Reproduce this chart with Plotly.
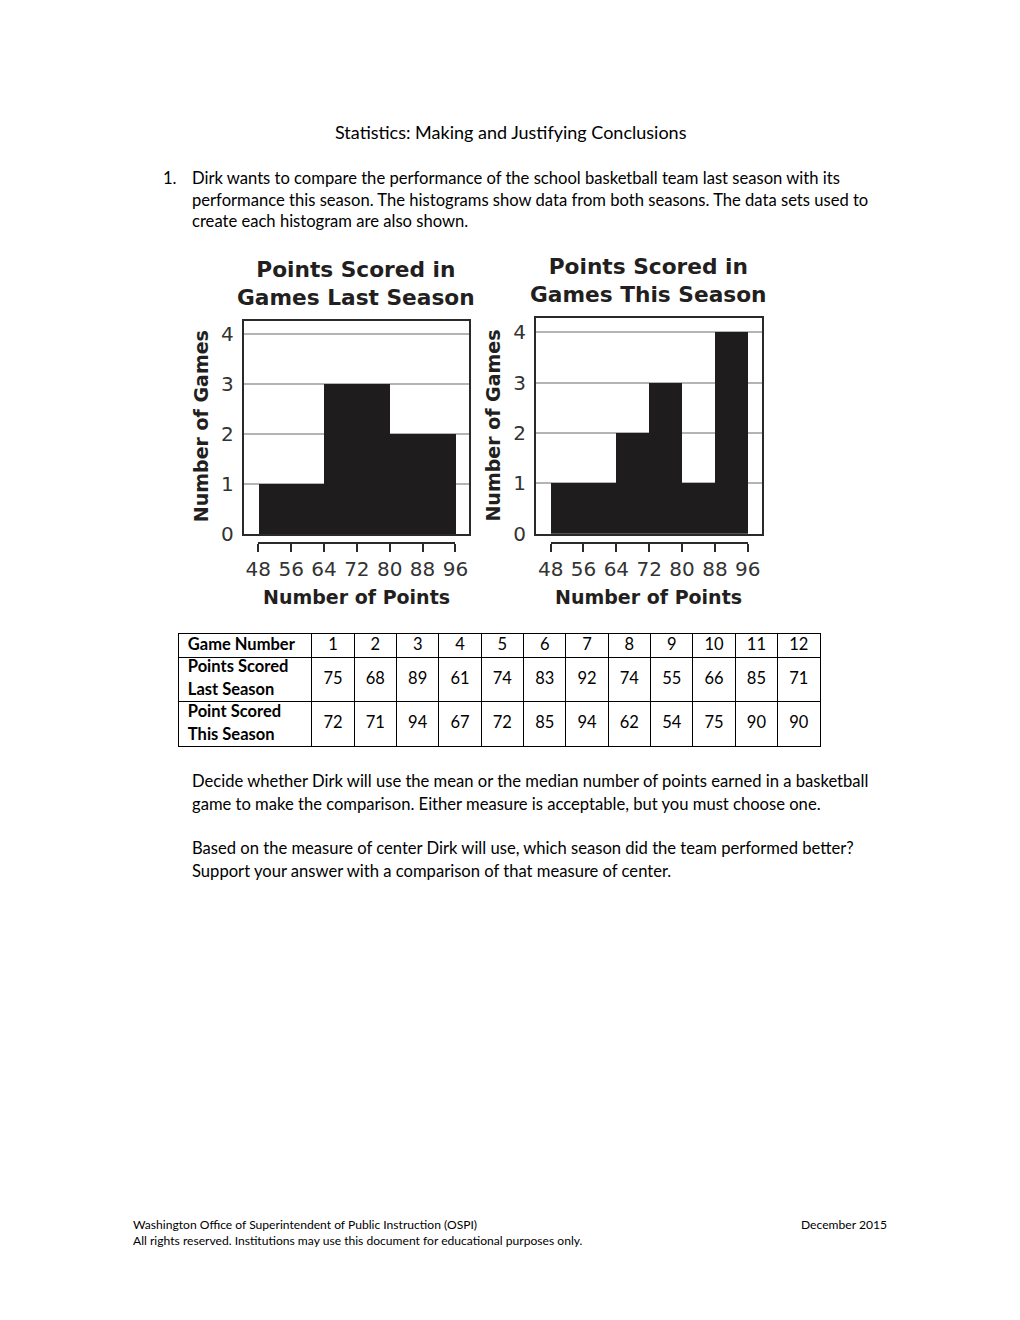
import plotly.graph_objects as go

# ---------------- data ----------------
game_numbers = [1, 2, 3, 4, 5, 6, 7, 8, 9, 10, 11, 12]
last_season = [75, 68, 89, 61, 74, 83, 92, 74, 55, 66, 85, 71]
this_season = [72, 71, 94, 67, 72, 85, 94, 62, 54, 75, 90, 90]
bin_start, bin_end, bin_size = 48, 96, 8
x_tick_vals = [48, 56, 64, 72, 80, 88, 96]
y_tick_vals = [0, 1, 2, 3, 4]
row_labels = [["Game Number"], ["Points Scored", "Last Season"], ["Point Scored", "This Season"]]

# ---------------- helpers ----------------
W, H = 1020, 1320
def px(x): return x / W
def py(y): return 1 - y / H

BAR = "#1e1c1d"
FRAME = "#2a2a2a"
GRID = "#b4b4b4"
TXT = "#231f20"
CH_FONT = "DejaVu Sans"
DOC_FONT = "Lato"
BODY_SIZE = 16.6

fig = go.Figure()

# histograms
for data, xa, ya in [(last_season, "x", "y"), (this_season, "x2", "y2")]:
    fig.add_trace(go.Histogram(
        x=data, xbins=dict(start=bin_start, end=bin_end, size=bin_size),
        marker=dict(color=BAR, line=dict(width=0)),
        xaxis=xa, yaxis=ya, hoverinfo="skip", showlegend=False))

# dummy traces to create the tick axes beneath the plots
for xa, ya in [("x3", "y3"), ("x4", "y4")]:
    fig.add_trace(go.Scatter(x=[None], y=[None], mode="markers", xaxis=xa, yaxis=ya,
                             hoverinfo="skip", showlegend=False))

frame_x = dict(showgrid=False, zeroline=False, showticklabels=False, ticks="",
               showline=True, mirror=True, linecolor=FRAME, linewidth=2, fixedrange=True)
frame_y = dict(tickvals=y_tick_vals, showgrid=True, gridcolor=GRID, gridwidth=1.5,
               zeroline=False, showline=True, mirror=True, linecolor=FRAME, linewidth=2,
               ticks="", tickfont=dict(family=CH_FONT, size=20, color="#333333"),
               fixedrange=True, ticklabelstandoff=4)
tick_x = dict(range=[bin_start, bin_end], tickvals=x_tick_vals, ticks="outside", ticklen=8,
              tickwidth=2, tickcolor=FRAME, showline=True, linecolor=FRAME, linewidth=2,
              showgrid=False, zeroline=False,
              tickfont=dict(family=CH_FONT, size=20, color="#333333"), fixedrange=True)
hidden_y = dict(visible=False, range=[0, 1], fixedrange=True)

fig.update_layout(
    xaxis=dict(domain=[px(236.7), px(467.7)], range=[44.4, 99.3], anchor="y", **frame_x),
    yaxis=dict(domain=[py(539), py(324)], range=[0, 4.26], anchor="x", **frame_y),
    xaxis2=dict(domain=[px(536.7), px(768.7)], range=[44.4, 99.5], anchor="y2", **frame_x),
    yaxis2=dict(domain=[py(538.7), py(321)], range=[0, 4.28], anchor="x2", **frame_y),
    xaxis3=dict(domain=[px(251.7), px(454)], anchor="y3", **tick_x),
    yaxis3=dict(domain=[py(547), py(544)], anchor="x3", **hidden_y),
    xaxis4=dict(domain=[px(551.7), px(754)], anchor="y4", **tick_x),
    yaxis4=dict(domain=[py(547), py(544)], anchor="x4", **hidden_y),
)

# ---------------- table (text scatter on its own axes) ----------------
FIRST_W = 3.13
ROW_H = [23.3, 45, 45]
row_tops = [0, ROW_H[0], ROW_H[0] + ROW_H[1]]
total_h = sum(ROW_H)
n = len(game_numbers)

col_bounds = [FIRST_W + k for k in range(n)]
fig.update_layout(
    xaxis5=dict(domain=[px(170.7), px(828)], range=[0, FIRST_W + n], anchor="y5",
                tickvals=col_bounds, showgrid=True, gridcolor="#000000", gridwidth=1,
                showticklabels=False, ticks="", zeroline=False, showline=True, mirror=True,
                linecolor="#000000", linewidth=1, fixedrange=True),
    yaxis5=dict(domain=[py(753.3), py(640)], range=[total_h, 0], anchor="x5",
                tickvals=row_tops[1:], showgrid=True, gridcolor="#000000", gridwidth=1,
                showticklabels=False, ticks="", zeroline=False, showline=True, mirror=True,
                linecolor="#000000", linewidth=1, fixedrange=True),
)

row_values = [game_numbers, last_season, this_season]
for r, vals in enumerate(row_values):
    yc = row_tops[r] + ROW_H[r] / 2
    fig.add_trace(go.Scatter(
        x=[FIRST_W + i + 0.5 for i in range(len(vals))], y=[yc] * len(vals),
        text=[str(v) for v in vals], mode="text", textposition="middle center",
        textfont=dict(family=DOC_FONT, size=16.5, color="#000000"),
        xaxis="x5", yaxis="y5", cliponaxis=False, hoverinfo="skip", showlegend=False))
    lines = row_labels[r]
    nl = len(lines)
    ys = [yc + (j - (nl - 1) / 2) * 22.7 for j in range(nl)]
    fig.add_trace(go.Scatter(
        x=[0.2] * nl, y=ys, text=["<b>" + t + "</b>" for t in lines], mode="text",
        textposition="middle right",
        textfont=dict(family=DOC_FONT, size=16.5, color="#000000"),
        xaxis="x5", yaxis="y5", cliponaxis=False, hoverinfo="skip", showlegend=False))

# ---------------- annotations ----------------
ann = []
def add_text(text, x, y, size, family=DOC_FONT, xanchor="left", color="#000000", angle=0):
    ann.append(dict(text=text, x=px(x), y=py(y), xref="paper", yref="paper",
                    xanchor=xanchor, yanchor="middle", showarrow=False, textangle=angle,
                    font=dict(family=family, size=size, color=color)))

# chart titles
add_text("<b>Points Scored in<br>Games Last Season</b>", 352, 286, 21.7, CH_FONT, "center", TXT)
add_text("<b>Points Scored in<br>Games This Season</b>", 652, 283.5, 21.7, CH_FONT, "center", TXT)
# y titles
add_text("<b>Number of Games</b>", 193, 430, 19, CH_FONT, "center", TXT, -90)
add_text("<b>Number of Games</b>", 493, 429, 19, CH_FONT, "center", TXT, -90)
# x titles
add_text("<b>Number of Points</b>", 352, 602, 19, CH_FONT, "center", TXT)
add_text("<b>Number of Points</b>", 652, 602, 19, CH_FONT, "center", TXT)

# document text
add_text("Statistics: Making and Justifying Conclusions", 511, 133, 18, DOC_FONT, "center")
add_text("1.", 152, 180, BODY_SIZE)
body = [
    ("Dirk wants to compare the performance of the school basketball team last season with its", 180),
    ("performance this season. The histograms show data from both seasons. The data sets used to", 202),
    ("create each histogram are also shown.", 223.5),
    ("Decide whether Dirk will use the mean or the median number of points earned in a basketball", 788),
    ("game to make the comparison. Either measure is acceptable, but you must choose one.", 811),
    ("Based on the measure of center Dirk will use, which season did the team performed better?", 856),
    ("Support your answer with a comparison of that measure of center.", 879),
]
for t, y in body:
    add_text(t, 181.5, y, BODY_SIZE)

# footer
add_text("Washington Office of Superintendent of Public Instruction (OSPI)", 121, 1236, 12.1)
add_text("December 2015", 899, 1236, 12.1, DOC_FONT, "right")
add_text("All rights reserved. Institutions may use this document for educational purposes only.", 121, 1252, 12.1)

fig.update_layout(
    width=W, height=H, margin=dict(l=0, r=0, t=0, b=0),
    paper_bgcolor="white", plot_bgcolor="white", bargap=0,
    showlegend=False, annotations=ann,
)

fig.write_html("out.html", config=dict(displayModeBar=False))
